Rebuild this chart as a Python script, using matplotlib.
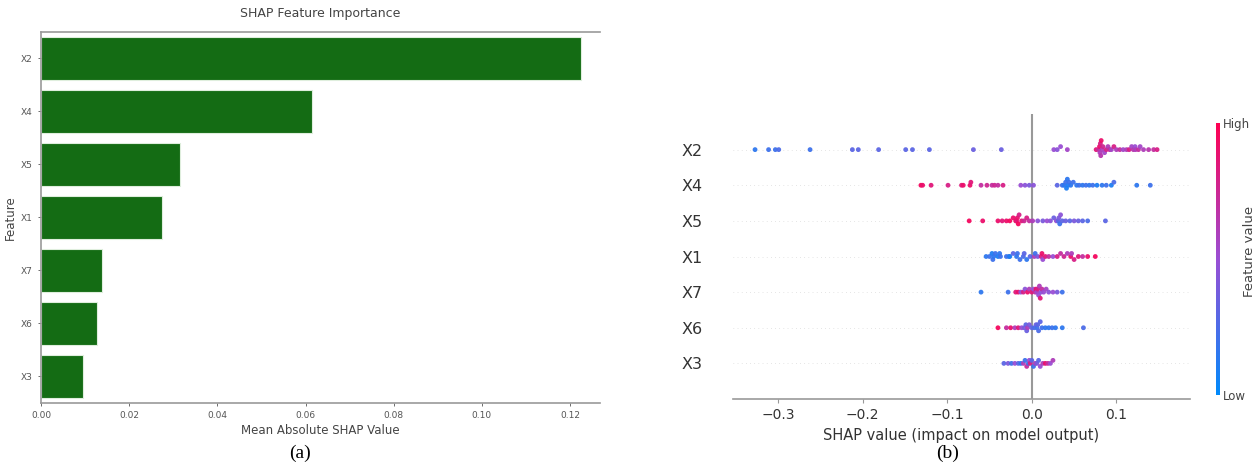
import numpy as np
import matplotlib
matplotlib.use("Agg")
import matplotlib.pyplot as plt
from matplotlib.colors import LinearSegmentedColormap

# left panel: mean |SHAP|
features = ["X2", "X4", "X5", "X1", "X7", "X6", "X3"]
mean_abs = [0.1225, 0.0615, 0.0315, 0.0275, 0.0138, 0.0127, 0.0096]

# right panel: shap values and feature values (0 = low, 1 = high)
x2_shap = [-0.327, -0.311, -0.303, -0.299, -0.262, -0.212, -0.205, -0.181, -0.149, -0.141, -0.121,
           -0.069, -0.036, 0.026, 0.030, 0.034, 0.042, 0.076, 0.079, 0.080, 0.0805, 0.081, 0.0815,
           0.082, 0.083, 0.084, 0.086, 0.088, 0.090, 0.092, 0.094, 0.097, 0.100, 0.104, 0.108,
           0.112, 0.115, 0.118, 0.120, 0.122, 0.1225, 0.126, 0.128, 0.132, 0.138, 0.144, 0.148]
x2_val = [0.15, 0.2, 0.2, 0.25, 0.2, 0.3, 0.3, 0.3, 0.3, 0.3, 0.3, 0.35, 0.35, 0.5, 0.45, 0.5,
          0.55, 0.85, 0.7, 0.9, 0.6, 0.8, 0.65, 0.9, 0.6, 0.75, 0.55, 0.8, 0.6, 0.7, 0.55, 0.8,
          0.6, 0.7, 0.55, 0.6, 0.8, 0.55, 0.65, 0.5, 0.6, 0.7, 0.55, 0.6, 0.65, 0.7, 0.8]

x4_shap = [-0.131, -0.129, -0.119, -0.099, -0.083, -0.081, -0.073, -0.072, -0.060, -0.053, -0.047,
           -0.044, -0.040, -0.034, -0.013, -0.008, -0.003, 0.002, 0.030, 0.036, 0.038, 0.040,
           0.041, 0.042, 0.043, 0.044, 0.046, 0.049, 0.053, 0.056, 0.060, 0.064, 0.068, 0.072,
           0.077, 0.083, 0.088, 0.094, 0.097, 0.124, 0.140]
x4_val = [0.95, 0.9, 0.85, 0.8, 0.85, 0.9, 0.9, 0.85, 0.7, 0.75, 0.7, 0.75, 0.7, 0.8, 0.5, 0.45,
          0.4, 0.45, 0.3, 0.2, 0.15, 0.2, 0.1, 0.15, 0.1, 0.2, 0.15, 0.2, 0.15, 0.2, 0.15, 0.2,
          0.15, 0.2, 0.1, 0.15, 0.2, 0.1, 0.25, 0.15, 0.2]

x5_shap = [-0.074, -0.058, -0.040, -0.035, -0.030, -0.026, -0.022, -0.019, -0.018, -0.017, -0.016,
           -0.015, -0.012, -0.009, -0.006, -0.003, 0.001, 0.007, 0.013, 0.018, 0.022, 0.026,
           0.029, 0.031, 0.032, 0.033, 0.034, 0.036, 0.040, 0.045, 0.050, 0.055, 0.060, 0.066, 0.087]
x5_val = [0.95, 0.9, 0.9, 0.85, 0.9, 0.95, 0.9, 0.95, 0.85, 0.9, 0.95, 0.8, 0.85, 0.75, 0.8,
          0.7, 0.6, 0.45, 0.4, 0.5, 0.45, 0.35, 0.5, 0.3, 0.4, 0.2, 0.45, 0.3, 0.35, 0.3, 0.4,
          0.35, 0.3, 0.25, 0.3]

x1_shap = [-0.054, -0.050, -0.047, -0.046, -0.045, -0.043, -0.040, -0.038, -0.037, -0.030, -0.027,
           -0.026, -0.022, -0.018, -0.017, -0.014, -0.010, -0.009, -0.006, -0.002, 0.003, 0.004,
           0.007, 0.011, 0.012, 0.013, 0.016, 0.020, 0.025, 0.030, 0.034, 0.038, 0.042, 0.046,
           0.047, 0.050, 0.055, 0.060, 0.066, 0.075]
x1_val = [0.15, 0.2, 0.1, 0.2, 0.15, 0.2, 0.1, 0.15, 0.2, 0.2, 0.15, 0.1, 0.3, 0.15, 0.2, 0.2,
          0.25, 0.3, 0.15, 0.3, 0.6, 0.2, 0.4, 0.8, 0.9, 0.5, 0.85, 0.7, 0.5, 0.8, 0.7, 0.75,
          0.6, 0.9, 0.6, 0.8, 0.85, 0.7, 0.9, 0.95]

x7_shap = [-0.060, -0.028, -0.019, -0.016, -0.013, -0.010, -0.008, -0.005, -0.003, 0.000, 0.002,
           0.004, 0.005, 0.006, 0.007, 0.008, 0.009, 0.010, 0.011, 0.012, 0.014, 0.017, 0.020,
           0.025, 0.030, 0.036]
x7_val = [0.15, 0.2, 0.85, 0.9, 0.5, 0.8, 0.45, 0.9, 0.6, 0.85, 0.5, 0.7, 0.9, 0.55, 0.8, 0.5,
          0.6, 0.85, 0.45, 0.7, 0.5, 0.55, 0.45, 0.5, 0.4, 0.2]

x6_shap = [-0.040, -0.030, -0.025, -0.020, -0.016, -0.012, -0.009, -0.007, -0.006, -0.005, -0.003,
           0.000, 0.003, 0.005, 0.006, 0.007, 0.008, 0.010, 0.012, 0.016, 0.020, 0.024, 0.028,
           0.036, 0.061]
x6_val = [0.95, 0.7, 0.9, 0.6, 0.85, 0.5, 0.4, 0.3, 0.35, 0.6, 0.4, 0.3, 0.25, 0.35, 0.2, 0.3,
          0.25, 0.3, 0.2, 0.15, 0.15, 0.2, 0.15, 0.15, 0.25]

x3_shap = [-0.033, -0.028, -0.024, -0.020, -0.016, -0.013, -0.010, -0.008, -0.006, -0.004, -0.003,
           -0.002, 0.000, 0.002, 0.004, 0.006, 0.008, 0.010, 0.013, 0.016, 0.019, 0.022, 0.025]
x3_val = [0.3, 0.4, 0.2, 0.5, 0.3, 0.15, 0.6, 0.2, 0.7, 0.15, 0.5, 0.8, 0.3, 0.2, 0.6, 0.4, 0.3,
          0.5, 0.6, 0.9, 0.7, 0.5, 0.6]

rows = [("X3", x3_shap, x3_val), ("X6", x6_shap, x6_val), ("X7", x7_shap, x7_val),
        ("X1", x1_shap, x1_val), ("X5", x5_shap, x5_val), ("X4", x4_shap, x4_val),
        ("X2", x2_shap, x2_val)]

red_blue = LinearSegmentedColormap.from_list("red_blue", ["#008afb", "#9a4ed4", "#ff0052"])


def swarm_offsets(vals, bin_w=0.004, step=0.085):
    # simple beeswarm like shap: stack points that fall into the same bin
    vals = np.asarray(vals)
    quant = np.round(vals / bin_w)
    order = np.argsort(quant, kind="stable")
    ys = np.zeros(len(vals))
    layer, last = 0, None
    for i in order:
        if quant[i] != last:
            layer = 0
        ys[i] = np.ceil(layer / 2) * ((layer % 2) * 2 - 1)
        layer += 1
        last = quant[i]
    return ys * step


fig = plt.figure(figsize=(12.58, 4.74), dpi=100)

# ---- (a) bar chart
ax1 = fig.add_axes([0.0326, 0.1498, 0.4444, 0.7827])
ypos = np.arange(len(features))
ax1.barh(ypos, mean_abs, height=0.8, color="#146c14", edgecolor="#dfeedd", linewidth=0.8)
ax1.set_ylim(len(features) - 0.5, -0.5)
ax1.set_xlim(0, 0.1268)
ax1.set_yticks(ypos)
ax1.set_yticklabels(features)
ax1.set_xticks([0.0, 0.02, 0.04, 0.06, 0.08, 0.10, 0.12])
ax1.set_xticklabels(["0.00", "0.02", "0.04", "0.06", "0.08", "0.10", "0.12"])
ax1.tick_params(labelsize=6.5, colors="#555555", length=2.5, width=0.6)
ax1.set_title("SHAP Feature Importance", fontsize=9, color="#444444", pad=11)
ax1.set_xlabel("Mean Absolute SHAP Value", fontsize=8.5, color="#444444", labelpad=3)
ax1.set_ylabel("Feature", fontsize=8.5, color="#444444", labelpad=3)
for s in ["left", "bottom", "top"]:
    ax1.spines[s].set_color("#999999")
    ax1.spines[s].set_linewidth(1.2)
ax1.spines["right"].set_visible(False)

# ---- (b) shap summary
ax2 = fig.add_axes([0.5827, 0.1582, 0.3633, 0.6013])
for k, (name, sv, fv) in enumerate(rows):
    ax2.axhline(k, color="#cccccc", lw=0.5, dashes=(1, 5), zorder=-1)
    off = swarm_offsets(sv)
    ax2.scatter(sv, k + off, c=fv, cmap=red_blue, vmin=0, vmax=1, s=12,
                linewidths=0, alpha=0.95, zorder=3)
ax2.axvline(0, color="#999999", lw=1.5, zorder=-1)
ax2.set_ylim(-1, len(rows))
ax2.set_xlim(-0.353, 0.187)
ax2.set_yticks(range(len(rows)))
ax2.set_yticklabels([r[0] for r in rows], fontsize=11.5, color="#333333")
ax2.set_xticks([-0.3, -0.2, -0.1, 0.0, 0.1])
ax2.set_xticklabels(["\u22120.3", "\u22120.2", "\u22120.1", "0.0", "0.1"])
ax2.tick_params(axis="y", length=0, pad=22)
ax2.tick_params(axis="x", labelsize=10, colors="#333333", length=3, color="#999999")
ax2.set_xlabel("SHAP value (impact on model output)", fontsize=10.5, color="#333333", labelpad=4)
for s in ["left", "top", "right"]:
    ax2.spines[s].set_visible(False)
ax2.spines["bottom"].set_color("#999999")
ax2.spines["bottom"].set_linewidth(1.2)

cax = fig.add_axes([0.9670, 0.167, 0.003, 0.574])
sm = plt.cm.ScalarMappable(cmap=red_blue, norm=plt.Normalize(0, 1))
cb = fig.colorbar(sm, cax=cax, ticks=[0, 1])
cb.outline.set_visible(False)
cb.set_ticklabels(["Low", "High"])
cax.tick_params(labelsize=8.5, length=0, pad=2, colors="#444444")
fig.text(0.9935, 0.47, "Feature value", fontsize=9.5, color="#444444",
         rotation=90, ha="center", va="center")

# captions
fig.text(0.2385, 0.025, "(a)", fontsize=14, family="Liberation Serif", ha="center", va="bottom")
fig.text(0.7536, 0.025, "(b)", fontsize=14, family="Liberation Serif", ha="center", va="bottom")

fig.savefig("out.png", dpi=100, facecolor="white")
